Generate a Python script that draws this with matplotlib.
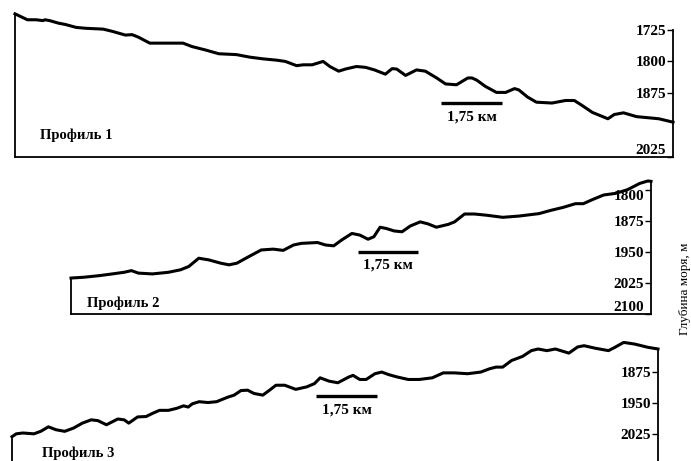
import matplotlib
matplotlib.use('Agg')
import matplotlib.pyplot as plt

plt.rcParams['font.family'] = 'serif'
plt.rcParams['font.serif'] = ['Liberation Serif', 'DejaVu Serif']

# Profile 1: distance along profile (km) and sea depth (m)
dist1 = [0, 0.10, 0.35, 0.60, 0.79, 0.85, 0.98, 1.23, 1.42, 1.73, 1.99, 2.49, 2.74, 3.12,
         3.31, 3.49, 3.81, 4.75, 5.00, 5.38, 5.76, 6.26, 6.64, 7.01, 7.39, 7.64, 7.96, 8.15,
         8.40, 8.71, 8.90, 9.15, 9.34, 9.65, 9.91, 10.16, 10.47, 10.66, 10.79, 11.04, 11.35,
         11.60, 11.92, 12.17, 12.48, 12.80, 12.92, 13.05, 13.30, 13.61, 13.87, 14.12, 14.24,
         14.49, 14.74, 15.18, 15.56, 15.81, 16.00, 16.32, 16.76, 16.94, 17.20, 17.57, 17.95,
         18.20, 18.60]
depth1 = [1688, 1692, 1702, 1702, 1704, 1702, 1704, 1710, 1713, 1720, 1722, 1724, 1729, 1738,
          1737, 1743, 1757, 1757, 1765, 1773, 1782, 1784, 1790, 1794, 1797, 1800, 1810, 1808,
          1808, 1800, 1812, 1823, 1818, 1812, 1814, 1820, 1830, 1817, 1818, 1833, 1820,
          1823, 1839, 1853, 1855, 1839, 1839, 1844, 1859, 1873, 1873, 1864, 1867,
          1884, 1896, 1898, 1892, 1892, 1902, 1920, 1935, 1925, 1921, 1930, 1933,
          1935, 1943]

# Profile 2
dist2 = [0, 0.38, 0.84, 1.20, 1.55, 1.76, 1.96, 2.37, 2.84, 3.19, 3.43, 3.72, 4.01, 4.36,
         4.60, 4.83, 5.18, 5.54, 5.89, 6.18, 6.48, 6.71, 7.18, 7.41, 7.65, 7.88, 8.18, 8.41,
         8.65, 8.82, 9.00, 9.18, 9.41, 9.64, 9.88, 10.17, 10.40, 10.64, 10.99, 11.17, 11.46,
         11.75, 12.11, 12.57, 13.04, 13.63, 13.98, 14.33, 14.69, 14.92, 15.16, 15.51, 15.86,
         16.21, 16.56, 16.80, 16.89]
depth2 = [2013, 2011, 2007, 2003, 1999, 1995, 2001, 2003, 1999, 1993, 1985, 1965, 1969, 1977,
          1981, 1977, 1961, 1945, 1943, 1946, 1933, 1929, 1927, 1933, 1935, 1921, 1905, 1909,
          1919, 1913, 1890, 1893, 1899, 1901, 1887, 1877, 1882, 1890, 1883, 1877, 1858,
          1858, 1861, 1866, 1863, 1857, 1849, 1842, 1833, 1833, 1824, 1812, 1808,
          1799, 1784, 1778, 1779]

# Profile 3
dist3 = [0, 0.12, 0.31, 0.62, 0.81, 1.03, 1.24, 1.49, 1.74, 1.99, 2.24, 2.43, 2.67, 2.99,
         3.17, 3.30, 3.55, 3.79, 3.98, 4.17, 4.42, 4.66, 4.85, 4.98, 5.10, 5.29, 5.54, 5.78,
         6.10, 6.28, 6.47, 6.66, 6.84, 7.09, 7.28, 7.46, 7.71, 8.02, 8.33, 8.55, 8.71, 8.96,
         9.21, 9.52, 9.64, 9.83, 10.01, 10.26, 10.45, 10.64, 10.89, 11.20, 11.51, 11.88,
         12.19, 12.50, 12.88, 13.25, 13.50, 13.68, 13.87, 14.12, 14.43, 14.68, 14.87, 15.12,
         15.36, 15.74, 15.99, 16.17, 16.48, 16.86, 17.04, 17.29, 17.60, 17.98, 18.26]
depth3 = [2032, 2025, 2023, 2025, 2019, 2008, 2015, 2019, 2011, 1999, 1991, 1993, 2003, 1989,
          1991, 1999, 1984, 1983, 1975, 1968, 1968, 1963, 1957, 1960, 1952, 1947, 1949, 1947,
          1936, 1931, 1920, 1919, 1927, 1931, 1919, 1907, 1907, 1917, 1911, 1903, 1889, 1897,
          1901, 1887, 1883, 1893, 1893, 1879, 1875, 1881, 1887, 1893, 1893, 1889,
          1877, 1877, 1879, 1875, 1867, 1863, 1863, 1847, 1837, 1823, 1819, 1823,
          1819, 1829, 1814, 1811, 1817, 1823, 1815, 1803, 1807, 1815, 1819]

ticks1 = [1725, 1800, 1875, 2025]
ticks2 = [1800, 1875, 1950, 2025, 2100]
ticks3 = [1875, 1950, 2025]
titles = ['Профиль 1', 'Профиль 2', 'Профиль 3']
scale_km = 1.75
scale_label = '1,75 км'
ylabel = 'Глубина моря, м'

W, H = 691, 461
fig = plt.figure(figsize=(W / 100, H / 100), dpi=100)


def add_px_axes(left, right, top, bottom):
    # axes box given in pixels from the top-left corner
    return fig.add_axes([left / W, 1 - bottom / H, (right - left) / W, (bottom - top) / H])


panels = [
    # axes box, xlim, ylim, ticks, data, bar start/depth, label depth, title pos, bottom spine
    dict(box=(15, 673, 10, 157), xlim=(0, 18.6), ylim=(2025, 1679), ticks=ticks1,
         x=dist1, y=depth1, bar=(12.03, 1899), bar_text=1930, title=(0.71, 1974),
         right_top=1725, bottom=True),
    dict(box=(71, 651, 176, 314), xlim=(0, 16.89), ylim=(2100, 1766), ticks=ticks2,
         x=dist2, y=depth2, bar=(8.35, 1950), bar_text=1981, title=(0.47, 2073),
         right_top=depth2[-1], bottom=True),
    dict(box=(12, 658, 335, 461), xlim=(0, 18.26), ylim=(2091, 1785), ticks=ticks3,
         x=dist3, y=depth3, bar=(8.58, 1933), bar_text=1967, title=(0.85, 2071),
         right_top=depth3[-1], bottom=False),
]

for p, title in zip(panels, titles):
    ax = add_px_axes(*p['box'])
    ax.set_xlim(*p['xlim'])
    ax.set_ylim(*p['ylim'])
    ax.plot(p['x'], p['y'], color='black', lw=2.2, solid_joinstyle='round', clip_on=False)

    # scale bar
    bx, by = p['bar']
    ax.plot([bx, bx + scale_km], [by, by], color='black', lw=2.4, solid_capstyle='butt')
    ax.text(bx + scale_km / 2, p['bar_text'], scale_label, ha='center', va='center',
            fontsize=11, fontweight='bold')

    ax.text(p['title'][0], p['title'][1], title, ha='left', va='center',
            fontsize=10.5, fontweight='bold')

    ax.spines['top'].set_visible(False)
    ax.spines['left'].set_bounds(p['y'][0], p['ylim'][0])
    ax.spines['right'].set_bounds(p['right_top'], p['ylim'][0])
    ax.spines['bottom'].set_visible(p['bottom'])
    for s in ['left', 'right', 'bottom']:
        ax.spines[s].set_linewidth(1.3)

    ax.set_xticks([])
    ax.yaxis.tick_right()
    ax.set_yticks(p['ticks'])
    ax.tick_params(axis='y', direction='in', length=4, width=1, pad=-5, labelsize=11)
    labels = ax.get_yticklabels()
    for lab in labels:
        lab.set_horizontalalignment('right')
        lab.set_fontweight('bold')
    if p['bottom']:
        labels[-1].set_verticalalignment('bottom')
    if p['ticks'][0] == 1800 and p['right_top'] > 1770:
        labels[0].set_verticalalignment('top')

fig.text(685 / W, 1 - 289 / H, ylabel, rotation=90, ha='center', va='center', fontsize=9.5)

fig.savefig('out.png', dpi=100)
